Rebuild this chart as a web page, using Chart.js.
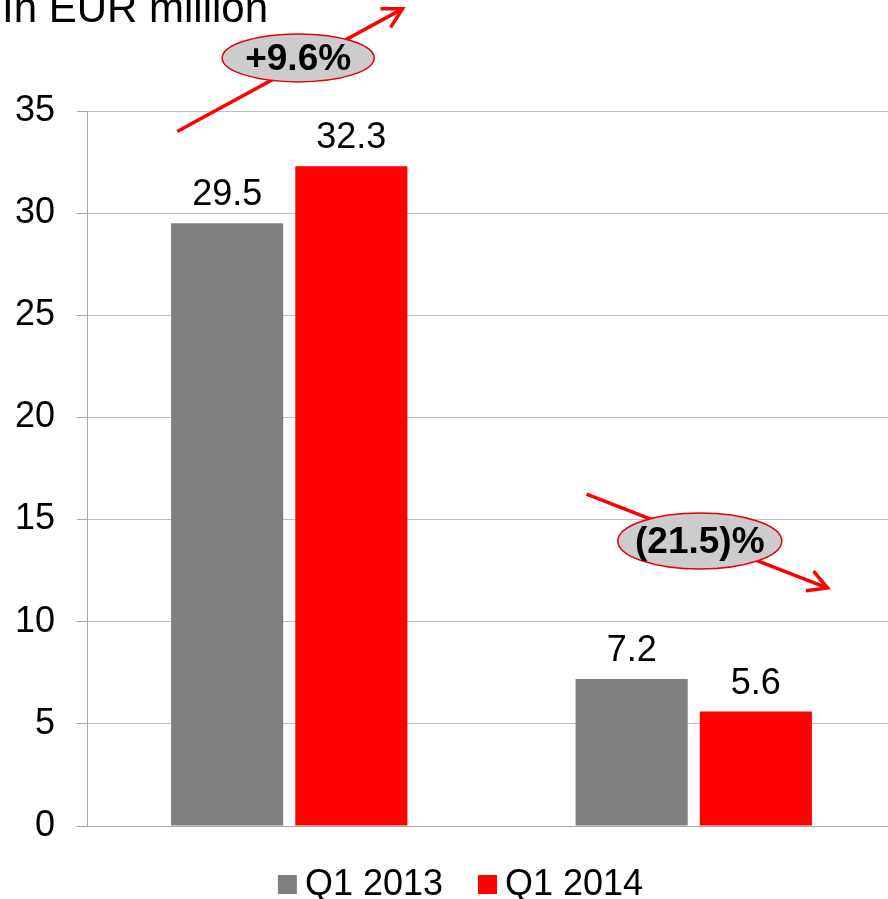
<!DOCTYPE html>
<html><head><meta charset="utf-8">
<script src="https://cdn.jsdelivr.net/npm/chart.js@4/dist/chart.umd.min.js"></script>
<style>
html,body{margin:0;padding:0;overflow:hidden;background:#fff;width:888px;height:899px;}
#wrap{position:absolute;left:0;top:0;width:900px;height:899px;}
</style></head><body>
<div id="wrap"><canvas id="c"></canvas></div>
<script>
const categories = ["", ""];
const seriesNames = ["Q1 2013", "Q1 2014"];
const q1_2013 = [29.5, 7.2];
const q1_2014 = [32.3, 5.6];
const yTicks = [0, 5, 10, 15, 20, 25, 30, 35];
const unitLabel = "In EUR million";
const changeLabels = ["+9.6%", "(21.5)%"];

const FONT = "'Liberation Sans', Arial, sans-serif";

const extras = {
  id: 'extras',
  afterDatasetsDraw(chart) {
    const ctx = chart.ctx;
    const x = chart.scales.x, y = chart.scales.y;
    ctx.save();
    // data labels
    ctx.font = "36px " + FONT;
    ctx.fillStyle = "#000";
    ctx.textAlign = "center";
    ctx.textBaseline = "alphabetic";
    chart.data.datasets.forEach((ds, di) => {
      chart.getDatasetMeta(di).data.forEach((bar, i) => {
        ctx.fillText(ds.data[i].toFixed(1), bar.x, bar.y - 18);
      });
    });
    // unit label
    ctx.textAlign = "left";
    ctx.font = "42px " + FONT;
    ctx.fillText(unitLabel, 2, 22);
    // legend
    ctx.font = "36px " + FONT;
    const items = chart.data.datasets.map(ds => ({t: ds.label, c: ds.backgroundColor, w: ctx.measureText(ds.label).width}));
    const box = 19, gap = 8, between = 35;
    let total = 0;
    items.forEach((it, i) => { total += box + gap + it.w + (i ? between : 0); });
    let lx = 460.5 - total / 2;
    items.forEach(it => {
      ctx.fillStyle = it.c;
      ctx.fillRect(lx, 875, box, box);
      ctx.fillStyle = "#000";
      ctx.fillText(it.t, lx + box + gap, 895);
      lx += box + gap + it.w + between;
    });
    // arrows + ellipses
    const arrows = [
      {x0: -0.277, v0: 34.0, x1: 0.280, v1: 40.0, cx: 0.022, cv: 37.6, rx: 76, ry: 24, t: changeLabels[0]},
      {x0: 0.735, v0: 16.25, x1: 1.331, v1: 11.65, cx: 1.015, cv: 13.95, rx: 82, ry: 28, t: changeLabels[1]}
    ];
    arrows.forEach(a => {
      const px = v => x.getPixelForValue(0) + v * (x.getPixelForValue(1) - x.getPixelForValue(0));
      const X0 = px(a.x0), Y0 = y.getPixelForValue(a.v0);
      const X1 = px(a.x1), Y1 = y.getPixelForValue(a.v1);
      ctx.strokeStyle = "#ff0000";
      ctx.lineWidth = 3.5;
      ctx.lineCap = "butt";
      ctx.beginPath(); ctx.moveTo(X0, Y0); ctx.lineTo(X1, Y1); ctx.stroke();
      const ang = Math.atan2(Y1 - Y0, X1 - X0);
      const L = 22, sp = 0.5;
      ctx.beginPath();
      ctx.moveTo(X1 - L * Math.cos(ang - sp), Y1 - L * Math.sin(ang - sp));
      ctx.lineTo(X1, Y1);
      ctx.lineTo(X1 - L * Math.cos(ang + sp), Y1 - L * Math.sin(ang + sp));
      ctx.stroke();
      const CX = px(a.cx), CY = y.getPixelForValue(a.cv);
      ctx.beginPath();
      ctx.ellipse(CX, CY, a.rx, a.ry, 0, 0, Math.PI * 2);
      ctx.fillStyle = "#cccccc";
      ctx.fill();
      ctx.lineWidth = 1.5;
      ctx.strokeStyle = "#e3000f";
      ctx.stroke();
      ctx.fillStyle = "#000";
      ctx.font = "bold 37px " + FONT;
      ctx.textAlign = "center";
      ctx.textBaseline = "middle";
      ctx.fillText(a.t, CX, CY + 2);
      ctx.textAlign = "left";
      ctx.textBaseline = "alphabetic";
    });
    ctx.restore();
  }
};

new Chart(document.getElementById('c'), {
  type: 'bar',
  data: {
    labels: categories,
    datasets: [
      {label: seriesNames[0], data: q1_2013, backgroundColor: "#808080", categoryPercentage: 0.614, barPercentage: 0.903},
      {label: seriesNames[1], data: q1_2014, backgroundColor: "#ff0000", categoryPercentage: 0.614, barPercentage: 0.903}
    ]
  },
  options: {
    responsive: true,
    maintainAspectRatio: false,
    animation: false,
    layout: {padding: {top: 111, right: 4, left: 0, bottom: 63}},
    plugins: {
      title: {display: false},
      tooltip: {enabled: false},
      legend: {display: false}
    },
    scales: {
      x: {
        grid: {display: false},
        border: {display: true, color: "#a6a6a6", width: 1},
        ticks: {display: false},
        afterFit(s) { s.height = 10; }
      },
      y: {
        min: 0, max: 35,
        afterBuildTicks(s) { s.ticks = yTicks.map(v => ({value: v})); },
        grid: {color: "#bfbfbf", lineWidth: 1, tickLength: 10, tickColor: "#a6a6a6"},
        border: {display: true, color: "#a6a6a6", width: 1},
        ticks: {color: "#000", font: {family: FONT, size: 36}, padding: 22},
        afterFit(s) { s.width = 87; }
      }
    }
  },
  plugins: [extras]
});
</script>
</body></html>
